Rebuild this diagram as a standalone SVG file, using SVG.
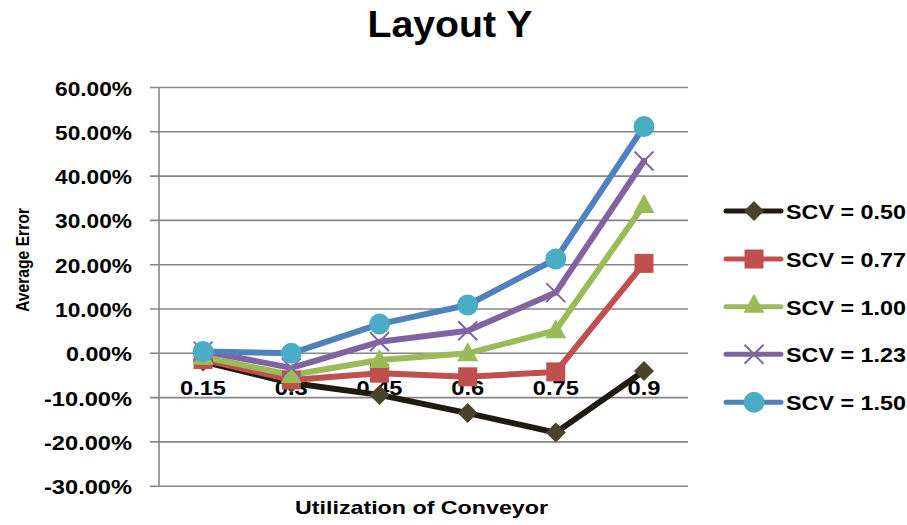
<svg xmlns="http://www.w3.org/2000/svg" width="907" height="525" viewBox="0 0 907 525">
  <style>
    .t { font-family: "Liberation Sans", Arial, sans-serif; font-weight: bold; fill: #000; }
    .grid { stroke: #868686; stroke-width: 1.6; fill: none; }
    .ylab { font-size: 19.5px; text-anchor: end; }
    .xlab { font-size: 20px; text-anchor: middle; }
    .leg { font-size: 21px; }
    .s050 { stroke: #1f1b10; }
    .s077 { stroke: #c0504d; }
    .s100 { stroke: #9bbb59; }
    .s123 { stroke: #8064a2; }
    .s150 { stroke: #4f81bd; }
    .ln { fill: none; stroke-width: 6; stroke-linejoin: round; stroke-linecap: round; }
  </style>
  <defs>
    <polygon id="mDiamond" points="0,-10 10,0 0,10 -10,0" fill="#4a4229"/>
    <rect id="mSquare" x="-9.5" y="-9.5" width="19" height="19" fill="#c0504d"/>
    <polygon id="mTriangle" points="0,-11 10.5,8 -10.5,8" fill="#9bbb59"/>
    <g id="mCross" stroke="#8064a2" stroke-width="2"><line x1="-9.5" y1="-9.5" x2="9.5" y2="9.5"/><line x1="-9.5" y1="9.5" x2="9.5" y2="-9.5"/></g>
    <circle id="mCircle" r="10.5" fill="#4bacc6"/>
  </defs>

  <rect width="907" height="525" fill="#fff"/>

  <!-- title -->
  <text id="title" class="t" x="450" y="37" font-size="36" text-anchor="middle" textLength="165" lengthAdjust="spacingAndGlyphs">Layout Y</text>

  <!-- gridlines with tick stubs -->
  <g id="grid">
    <line class="grid" x1="150" y1="87.5" x2="688" y2="87.5"/>
    <line class="grid" x1="150" y1="131.8" x2="688" y2="131.8"/>
    <line class="grid" x1="150" y1="176.1" x2="688" y2="176.1"/>
    <line class="grid" x1="150" y1="220.4" x2="688" y2="220.4"/>
    <line class="grid" x1="150" y1="264.7" x2="688" y2="264.7"/>
    <line class="grid" x1="150" y1="309" x2="688" y2="309"/>
    <line class="grid" x1="150" y1="353.3" x2="688" y2="353.3"/>
    <line class="grid" x1="150" y1="397.6" x2="688" y2="397.6"/>
    <line class="grid" x1="150" y1="441.9" x2="688" y2="441.9"/>
    <line class="grid" x1="150" y1="486.2" x2="688" y2="486.2"/>
    <line class="grid" x1="159" y1="87.5" x2="159" y2="486.2"/>
  </g>

  <!-- value axis labels -->
  <g id="y-axis">
    <text class="t ylab" x="132" y="95.5" textLength="77" lengthAdjust="spacingAndGlyphs">60.00%</text>
    <text class="t ylab" x="132" y="139.8" textLength="77" lengthAdjust="spacingAndGlyphs">50.00%</text>
    <text class="t ylab" x="132" y="184.1" textLength="77" lengthAdjust="spacingAndGlyphs">40.00%</text>
    <text class="t ylab" x="132" y="228.4" textLength="77" lengthAdjust="spacingAndGlyphs">30.00%</text>
    <text class="t ylab" x="132" y="272.7" textLength="77" lengthAdjust="spacingAndGlyphs">20.00%</text>
    <text class="t ylab" x="132" y="317" textLength="77" lengthAdjust="spacingAndGlyphs">10.00%</text>
    <text class="t ylab" x="132" y="361.3" textLength="66" lengthAdjust="spacingAndGlyphs">0.00%</text>
    <text class="t ylab" x="132" y="405.6" textLength="88" lengthAdjust="spacingAndGlyphs">-10.00%</text>
    <text class="t ylab" x="132" y="449.9" textLength="88" lengthAdjust="spacingAndGlyphs">-20.00%</text>
    <text class="t ylab" x="132" y="494.2" textLength="88" lengthAdjust="spacingAndGlyphs">-30.00%</text>
    <text class="t" x="0" y="0" font-size="18.6" text-anchor="middle" transform="translate(29 260) rotate(-90)" textLength="104" lengthAdjust="spacingAndGlyphs">Average Error</text>
  </g>

  <!-- category axis labels -->
  <g id="x-axis">
    <text class="t xlab" x="203" y="395" textLength="46" lengthAdjust="spacingAndGlyphs">0.15</text>
    <text class="t xlab" x="291.3" y="395" textLength="33" lengthAdjust="spacingAndGlyphs">0.3</text>
    <text class="t xlab" x="379.5" y="395" textLength="46" lengthAdjust="spacingAndGlyphs">0.45</text>
    <text class="t xlab" x="467.7" y="395" textLength="33" lengthAdjust="spacingAndGlyphs">0.6</text>
    <text class="t xlab" x="555.8" y="395" textLength="46" lengthAdjust="spacingAndGlyphs">0.75</text>
    <text class="t xlab" x="644" y="395" textLength="33" lengthAdjust="spacingAndGlyphs">0.9</text>
    <text class="t" x="421.5" y="514" font-size="19" text-anchor="middle" textLength="253" lengthAdjust="spacingAndGlyphs">Utilization of Conveyor</text>
  </g>

  <!-- data series -->
  <g id="connectors">
    <polyline class="ln s050" points="203.1,361.5 291.3,383 379.5,394.9 467.7,413.1 555.8,432.6 644,371"/>
    <polyline class="ln s077" points="203.1,359.5 291.3,379.9 379.5,373.2 467.7,376.8 555.8,371.9 644,263.4"/>
    <polyline class="ln s100" points="203.1,356.8 291.3,375 379.5,360 467.7,353.3 555.8,330.3 644,204.9"/>
    <polyline class="ln s123" points="203.1,351.1 291.3,367.9 379.5,341.8 467.7,330.7 555.8,292.6 644,161"/>
    <polyline class="ln s150" points="203.1,351.5 291.3,353.3 379.5,324.1 467.7,305 555.8,259 644,126.5"/>
  </g>

  <g id="series-scv-050">
    <use href="#mDiamond" x="203.1" y="361.5"/>
    <use href="#mDiamond" x="291.3" y="383"/>
    <use href="#mDiamond" x="379.5" y="394.9"/>
    <use href="#mDiamond" x="467.7" y="413.1"/>
    <use href="#mDiamond" x="555.8" y="432.6"/>
    <use href="#mDiamond" x="644" y="371"/>
  </g>
  <g id="series-scv-077">
    <use href="#mSquare" x="203.1" y="359.5"/>
    <use href="#mSquare" x="291.3" y="379.9"/>
    <use href="#mSquare" x="379.5" y="373.2"/>
    <use href="#mSquare" x="467.7" y="376.8"/>
    <use href="#mSquare" x="555.8" y="371.9"/>
    <use href="#mSquare" x="644" y="263.4"/>
  </g>
  <g id="series-scv-100">
    <use href="#mTriangle" x="203.1" y="356.8"/>
    <use href="#mTriangle" x="291.3" y="375"/>
    <use href="#mTriangle" x="379.5" y="360"/>
    <use href="#mTriangle" x="467.7" y="353.3"/>
    <use href="#mTriangle" x="555.8" y="330.3"/>
    <use href="#mTriangle" x="644" y="204.9"/>
  </g>
  <g id="series-scv-123">
    <use href="#mCross" x="203.1" y="351.1"/>
    <use href="#mCross" x="291.3" y="367.9"/>
    <use href="#mCross" x="379.5" y="341.8"/>
    <use href="#mCross" x="467.7" y="330.7"/>
    <use href="#mCross" x="555.8" y="292.6"/>
    <use href="#mCross" x="644" y="161"/>
  </g>
  <g id="series-scv-150">
    <use href="#mCircle" x="203.1" y="351.5"/>
    <use href="#mCircle" x="291.3" y="353.3"/>
    <use href="#mCircle" x="379.5" y="324.1"/>
    <use href="#mCircle" x="467.7" y="305"/>
    <use href="#mCircle" x="555.8" y="259"/>
    <use href="#mCircle" x="644" y="126.5"/>
  </g>

  <!-- legend -->
  <g id="legend">
    <g id="legend-050">
      <line class="ln s050" x1="726" y1="211" x2="781" y2="211" style="stroke-width:5"/>
      <use href="#mDiamond" x="754" y="211"/>
      <text class="t leg" x="786" y="219" textLength="120" lengthAdjust="spacingAndGlyphs">SCV = 0.50</text>
    </g>
    <g id="legend-077">
      <line class="ln s077" x1="726" y1="259" x2="781" y2="259" style="stroke-width:5"/>
      <use href="#mSquare" x="754" y="259"/>
      <text class="t leg" x="786" y="267" textLength="120" lengthAdjust="spacingAndGlyphs">SCV = 0.77</text>
    </g>
    <g id="legend-100">
      <line class="ln s100" x1="726" y1="306.7" x2="781" y2="306.7" style="stroke-width:5"/>
      <use href="#mTriangle" x="754" y="304.7"/>
      <text class="t leg" x="786" y="314.7" textLength="120" lengthAdjust="spacingAndGlyphs">SCV = 1.00</text>
    </g>
    <g id="legend-123">
      <line class="ln s123" x1="726" y1="354.3" x2="781" y2="354.3" style="stroke-width:5"/>
      <use href="#mCross" x="754" y="354.3"/>
      <text class="t leg" x="786" y="362.3" textLength="120" lengthAdjust="spacingAndGlyphs">SCV = 1.23</text>
    </g>
    <g id="legend-150">
      <line class="ln s150" x1="726" y1="402.3" x2="781" y2="402.3" style="stroke-width:5"/>
      <use href="#mCircle" x="754" y="402.3"/>
      <text class="t leg" x="786" y="410.3" textLength="120" lengthAdjust="spacingAndGlyphs">SCV = 1.50</text>
    </g>
  </g>
</svg>
